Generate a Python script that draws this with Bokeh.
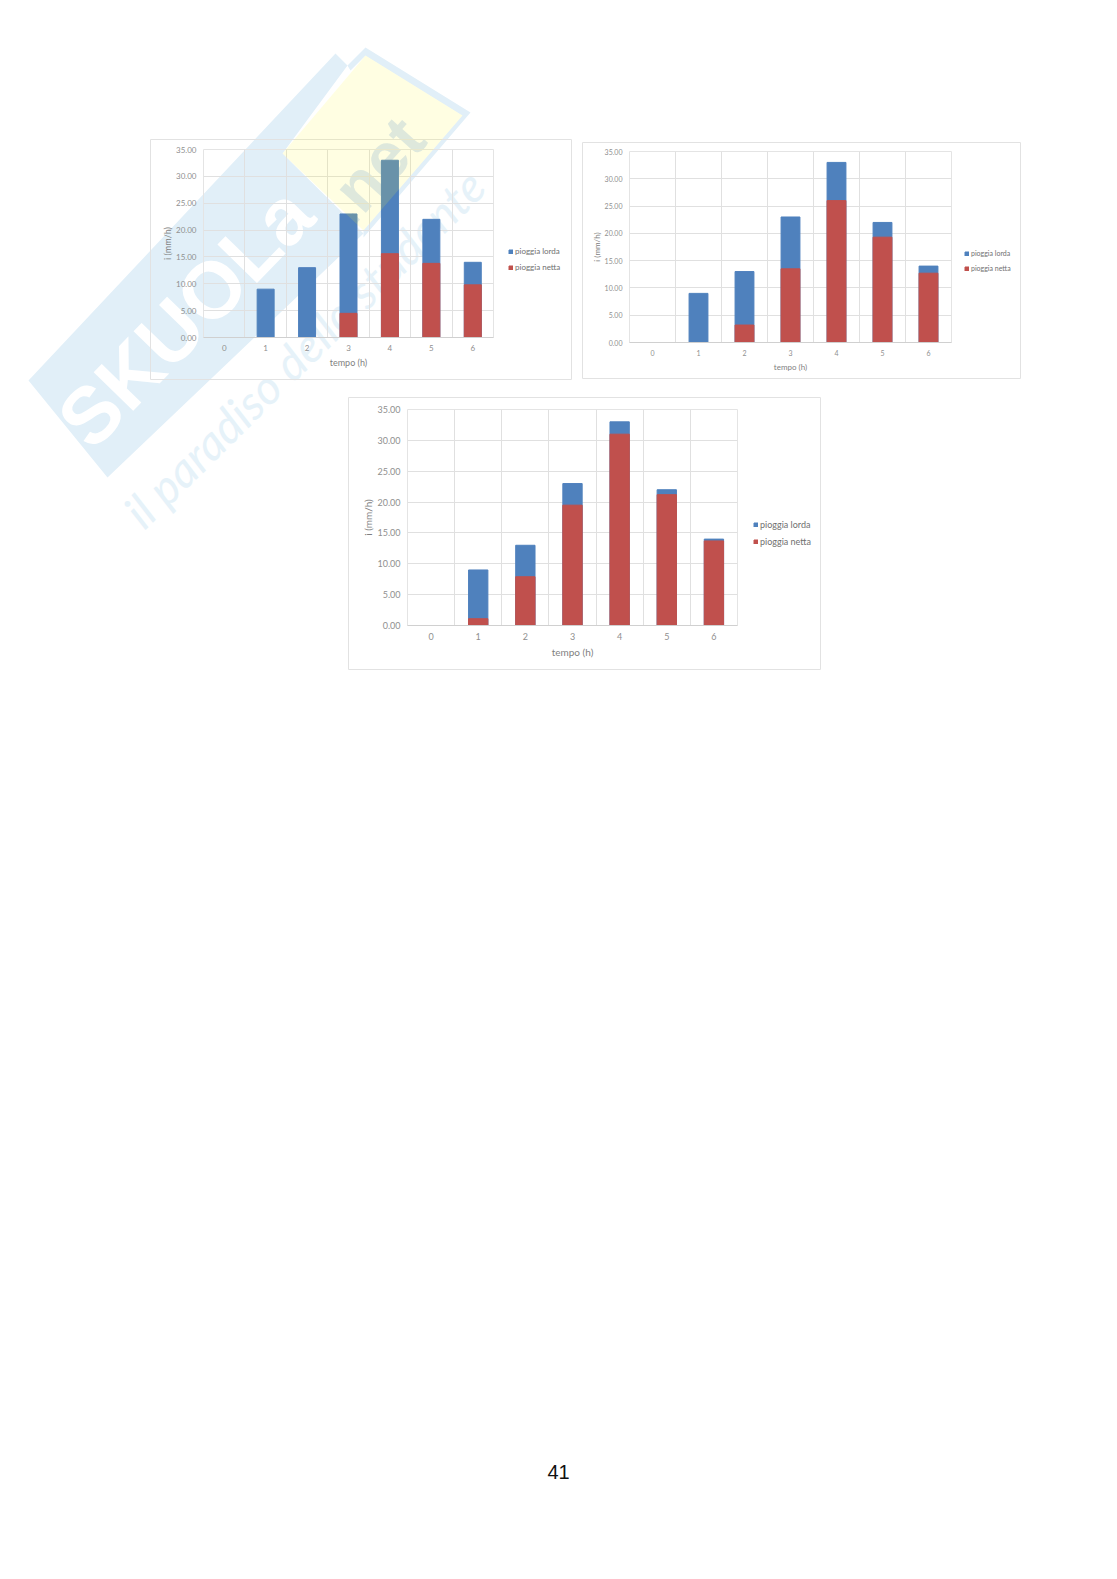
from bokeh.plotting import figure
from bokeh.layouts import column
from bokeh.models import Legend, LegendItem, FixedTicker, Range1d, NumeralTickFormatter
from bokeh.core.properties import value
from bokeh.embed import file_html
from bokeh.resources import INLINE

FONT = "Lato"
hours = [0, 1, 2, 3, 4, 5, 6]
y_ticks = [0, 5, 10, 15, 20, 25, 30, 35]
lorda = [0, 9, 13, 23, 33, 22, 14]
netta_a = [0, 0, 0, 4.5, 15.6, 13.8, 9.8]
netta_b = [0, 0, 3.2, 13.5, 26, 19.3, 12.7]
netta_c = [0, 1.1, 7.9, 19.5, 31, 21.2, 13.7]
x_title = "tempo (h)"
y_title = "i (mm/h)"
series = ["pioggia lorda", "pioggia netta"]
BLUE, RED = "#4f81bd", "#c0504d"
PAGE_W, PAGE_H = 1085, 1500

def chart(netta, fw, fh, l, t, r, b, fs, leg_y, leg_x, spacing):
    p = figure(frame_width=fw, frame_height=fh, output_backend="svg", toolbar_location=None,
               x_range=Range1d(-0.5, 6.5), y_range=Range1d(0, 35),
               min_border_left=l, min_border_top=t, min_border_right=r, min_border_bottom=b,
               background_fill_alpha=0, border_fill_alpha=0, outline_line_color="#e4e4e4")
    r1 = p.vbar(x=hours, top=lorda, width=0.41, color=BLUE)
    r2 = p.vbar(x=hours, top=netta, width=0.41, color=RED)
    p.xaxis.ticker = FixedTicker(ticks=hours)
    p.yaxis.ticker = FixedTicker(ticks=y_ticks)
    p.yaxis.formatter = NumeralTickFormatter(format="0.00")
    for ax in (p.xaxis[0], p.yaxis[0]):
        ax.major_tick_line_color = None
        ax.minor_tick_line_color = None
        ax.axis_line_color = "#d0d0d0"
        ax.major_label_text_color = "#8f8f8f"
        ax.major_label_text_font = FONT
        ax.major_label_text_font_size = f"{fs}px"
        ax.major_label_standoff = 1
        ax.axis_label_text_font = FONT
        ax.axis_label_text_color = "#7f7f7f"
        ax.axis_label_text_font_style = "normal"
        ax.axis_label_text_font_size = f"{fs+1}px"
    p.yaxis.axis_line_color = None
    p.xaxis.axis_label = x_title
    p.yaxis.axis_label = y_title
    p.xaxis.axis_label_standoff = 3
    p.yaxis.axis_label_standoff = 0
    p.xgrid.ticker = FixedTicker(ticks=[h_ + 0.5 for h_ in hours])
    p.xgrid.grid_line_color = "#e0e0e0"
    p.ygrid.grid_line_color = "#e0e0e0"
    leg = Legend(items=[LegendItem(label=series[0], renderers=[r1]),
                        LegendItem(label=series[1], renderers=[r2])],
                 location=(leg_x, leg_y), border_line_color=None, background_fill_alpha=0,
                 glyph_width=5, glyph_height=5, label_text_font=FONT, label_text_color="#707070",
                 label_text_font_size=f"{fs}px", spacing=spacing, padding=0, margin=0,
                 label_standoff=2, label_height=8)
    p.add_layout(leg, "right")
    return p

def page_layer():
    p = figure(frame_width=PAGE_W, frame_height=PAGE_H, output_backend="svg", toolbar_location=None,
               x_range=Range1d(0, PAGE_W), y_range=Range1d(PAGE_H, 0), x_axis_type=None, y_axis_type=None,
               min_border=0, background_fill_alpha=0, border_fill_alpha=0, outline_line_color=None)
    p.xgrid.visible = False
    p.ygrid.visible = False
    return p

under = page_layer()
under.patch([28, 335, 347, 282, 363, 107], [380, 53, 65, 153, 233, 477], color="#e1eff8", line_width=0)
under.patch([347, 365, 470, 363, 363, 462, 365, 350], [65, 47, 112, 237, 230, 115, 55, 70], color="#e1eff8", line_width=0)
under.text([72], [433], text=["SKUOLa"], angle=0.8, text_font=value("Liberation Sans"), text_font_style="bold",
           text_font_size="80px", text_color="#ffffff", text_baseline="alphabetic")
under.text([333], [214], text=[".net"], angle=0.84, text_font=value("Liberation Sans"), text_font_style="bold",
           text_font_size="66px", text_color="#d9e6f8", text_baseline="alphabetic")
under.text([131], [518], text=["il paradiso dello studente"], angle=0.78, text_font=value("Lato"), text_font_style="italic",
           text_font_size="47px", text_color="#e6f2f9", text_baseline="alphabetic")
under.text([558], [1471], text=["41"], text_font=value("Liberation Sans"), text_font_size="20px",
           text_color="#111111", text_align="center", text_baseline="middle")
under.quad(left=[150, 582, 348], right=[571, 1020, 820], top=[139, 142, 397], bottom=[379, 378, 669],
           fill_alpha=0, line_color="#e2e2e2", line_width=1)
under.margin = (0, 0, 0, -58)

f1 = chart(netta_a, 290, 188, 54, 10, 78, 43, 8, 65, 15, 6)
f2 = chart(netta_b, 322, 191, 47, 9, 70, 37, 7, 70, 13, 7)
f3 = chart(netta_c, 330, 216, 58, 12, 84, 45, 9, 78, 16, 6)

tint = page_layer()
tint.patch([282, 365, 462, 363], [153, 55, 115, 230], color="#fffa3c", alpha=0.15, line_width=0)

f1.margin = (139 - PAGE_H, 0, 0, 145)
f2.margin = (142 - 380, 0, 0, 571)
f3.margin = (397 - 379, 0, 0, 349)
tint.margin = (-670, 0, 0, -58)

out = column(under, f1, f2, f3, tint, spacing=0)
open("out.html", "w").write(file_html(out, INLINE))
